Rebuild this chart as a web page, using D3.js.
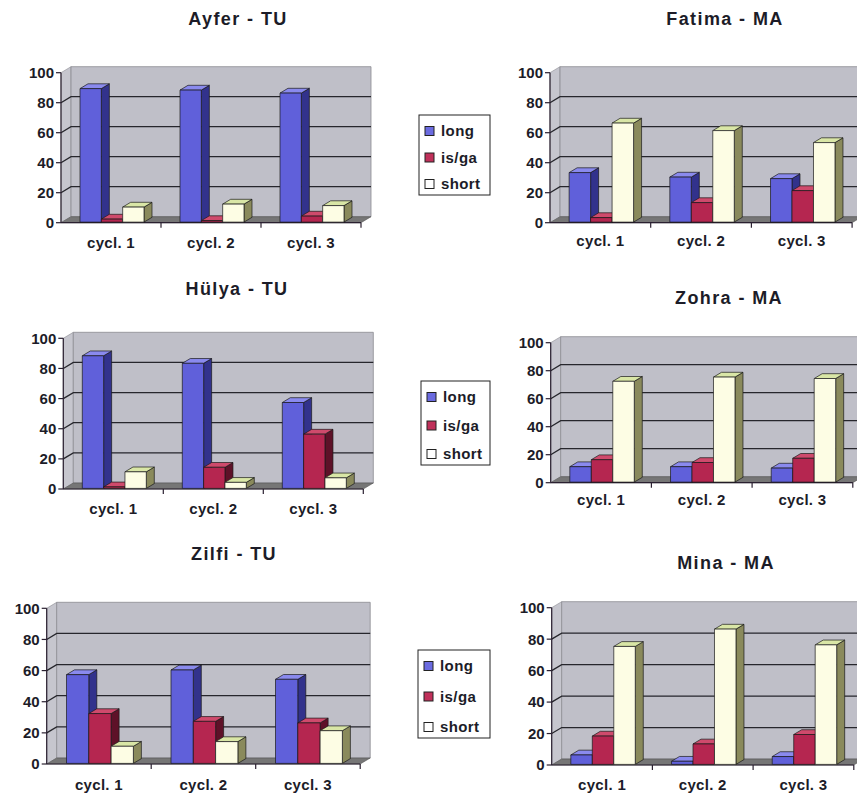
<!DOCTYPE html>
<html>
<head>
<meta charset="utf-8">
<script src="https://cdn.jsdelivr.net/npm/d3@7/dist/d3.min.js"></script>
<style>
  html, body { margin: 0; padding: 0; background: #ffffff; }
  svg { display: block; }
  text { font-family: "Liberation Sans", Arial, sans-serif; font-weight: bold; fill: #1c1c28; }
</style>
</head>
<body>
<svg id="chart" width="857" height="796"></svg>
<script>
// Shared categories, series and value ticks
const categories = ["cycl. 1", "cycl. 2", "cycl. 3"];
const seriesNames = ["long", "is/ga", "short"];
const yTicks = [0, 20, 40, 60, 80, 100];
const titles = ["Ayfer - TU", "Hülya - TU", "Zilfi - TU", "Fatima - MA", "Zohra - MA", "Mina - MA"];

// Percentages per speaker: one row per series (long, is/ga, short), one column per cycle
const ayfer  = [[89, 88, 86], [2, 1, 4], [10, 12, 11]];
const hulya  = [[88, 83, 57], [1, 14, 36], [11, 4, 7]];
const zilfi  = [[57, 60, 54], [32, 27, 26], [11, 14, 21]];
const fatima = [[33, 30, 29], [3, 13, 21], [66, 61, 53]];
const zohra  = [[11, 11, 10], [16, 14, 17], [72, 75, 74]];
const mina   = [[6, 2, 5], [18, 13, 19], [75, 86, 76]];

const speakers = [ayfer, hulya, zilfi, fatima, zohra, mina];

// Panel geometry: axis origin, height of the 0-100 range, category band width, text anchors
const panels = [
  { ax: 61,    zy: 222.7, h: 150,   band: 100,   tx: 238, ty: 25,  ly: 248, lg: { x: 419, y: 115, w: 71, h: 80 } },
  { ax: 63.3,  zy: 489,   h: 150.7, band: 100,   tx: 237, ty: 295, ly: 514, lg: { x: 421, y: 381, w: 69, h: 84 } },
  { ax: 46.7,  zy: 764,   h: 155.7, band: 104.5, tx: 234, ty: 560, ly: 790, lg: { x: 418, y: 650, w: 72, h: 88 } },
  { ax: 550,   zy: 222.7, h: 150,   band: 100.7, tx: 725, ty: 25,  ly: 246 },
  { ax: 550.7, zy: 482.7, h: 140,   band: 100.7, tx: 729, ty: 304, ly: 505 },
  { ax: 551.7, zy: 765,   h: 157.3, band: 100.7, tx: 726, ty: 569, ly: 790 }
];

// Face colours per series: front, top, side
const faces = [
  { front: "#6060da", top: "#8a8aee", side: "#32328c" },
  { front: "#b52650", top: "#cf4a6c", side: "#5e1128" },
  { front: "#fdfde4", top: "#d9e6a6", side: "#8a8a5c" }
];
const swatch = ["#6b6be0", "#c0305a", "#ffffff"];

const DX = 10, DY = 6;         // depth offset of the back wall
const Z0 = 0.1, Z1 = 0.9;      // bar depth extent

const svg = d3.select("#chart");

speakers.forEach((data, i) => {
  const p = panels[i];
  const g = svg.append("g");

  const x = d3.scaleBand().domain(categories).range([p.ax, p.ax + 3 * p.band]).paddingInner(0).paddingOuter(0);
  const y = d3.scaleLinear().domain([0, 100]).range([p.zy, p.zy - p.h]);
  const sub = d3.scaleBand().domain(seriesNames).range([0, x.bandwidth() * 0.64]);

  const x0 = x.range()[0], x1 = x.range()[1];
  const pt = (px, v, z) => [px + z * DX, y(v) - z * DY];
  const poly = pts => "M" + pts.map(q => q.join(",")).join("L") + "Z";

  // left side wall and back wall
  g.append("path")
    .attr("d", poly([pt(x0, 0, 0), pt(x0, 100, 0), pt(x0, 100, 1), pt(x0, 0, 1)]))
    .attr("fill", "#c6c6ce").attr("stroke", "#8a8a90").attr("stroke-width", 0.6);
  g.append("path")
    .attr("d", poly([pt(x0, 0, 1), pt(x0, 100, 1), pt(x1, 100, 1), pt(x1, 0, 1)]))
    .attr("fill", "#bfbfc8").attr("stroke", "#8a8a90").attr("stroke-width", 0.8);

  // gridlines across the side wall and back wall
  yTicks.filter(t => t > 0 && t < 100).forEach(t => {
    g.append("path")
      .attr("d", "M" + pt(x0, t, 0).join(",") + "L" + pt(x0, t, 1).join(",") + "L" + pt(x1, t, 1).join(","))
      .attr("fill", "none").attr("stroke", "#26262c").attr("stroke-width", 1.3);
  });

  // floor
  g.append("path")
    .attr("d", poly([pt(x0, 0, 0), pt(x1, 0, 0), pt(x1, 0, 1), pt(x0, 0, 1)]))
    .attr("fill", "#767676").attr("stroke", "#555").attr("stroke-width", 0.6);

  // value axis
  g.append("line").attr("x1", x0).attr("x2", x0).attr("y1", y(0)).attr("y2", y(100))
    .attr("stroke", "#2a2030").attr("stroke-width", 1.2);
  yTicks.forEach(t => {
    g.append("line").attr("x1", x0 - 5).attr("x2", x0).attr("y1", y(t)).attr("y2", y(t))
      .attr("stroke", "#2a2030").attr("stroke-width", 1.2);
    g.append("text").attr("x", x0 - 7).attr("y", y(t)).attr("dy", "0.36em")
      .attr("text-anchor", "end").attr("font-size", 15).text(t);
  });

  // category axis
  g.append("line").attr("x1", x0).attr("x2", x1).attr("y1", y(0)).attr("y2", y(0))
    .attr("stroke", "#2a2030").attr("stroke-width", 1.2);
  categories.forEach(c => {
    const xe = x(c) + x.bandwidth();
    g.append("line").attr("x1", xe).attr("x2", xe).attr("y1", y(0)).attr("y2", y(0) + 5)
      .attr("stroke", "#2a2030").attr("stroke-width", 1.2);
    g.append("text").attr("x", x(c) + x.bandwidth() / 2).attr("y", p.ly)
      .attr("text-anchor", "middle").attr("font-size", 15).attr("letter-spacing", 0.3).text(c);
  });

  // 3D columns, drawn left to right so later faces overlap earlier side faces
  categories.forEach((c, ci) => {
    const start = x(c) + (x.bandwidth() - sub.range()[1]) / 2;
    seriesNames.forEach((s, si) => {
      const v = data[si][ci];
      const bx0 = start + sub(s), bx1 = bx0 + sub.bandwidth();
      const f = faces[si];
      const front = [pt(bx0, 0, Z0), pt(bx1, 0, Z0), pt(bx1, v, Z0), pt(bx0, v, Z0)];
      const side = [pt(bx1, 0, Z0), pt(bx1, 0, Z1), pt(bx1, v, Z1), pt(bx1, v, Z0)];
      const top = [pt(bx0, v, Z0), pt(bx1, v, Z0), pt(bx1, v, Z1), pt(bx0, v, Z1)];
      [[side, f.side], [top, f.top], [front, f.front]].forEach(([shape, col]) => {
        g.append("path").attr("d", poly(shape)).attr("fill", col)
          .attr("stroke", "#1a1a1a").attr("stroke-width", 0.7).attr("stroke-linejoin", "round");
      });
    });
  });

  // title
  g.append("text").attr("x", p.tx).attr("y", p.ty).attr("text-anchor", "middle")
    .attr("font-size", 18).attr("letter-spacing", 1.4).text(titles[i]);

  // legend
  if (p.lg) {
    const lg = g.append("g").attr("transform", `translate(${p.lg.x},${p.lg.y})`);
    lg.append("rect").attr("width", p.lg.w).attr("height", p.lg.h)
      .attr("fill", "#fff").attr("stroke", "#222").attr("stroke-width", 1);
    const ly = d3.scalePoint().domain(seriesNames).range([16, p.lg.h - 11]);
    seriesNames.forEach((s, si) => {
      lg.append("rect").attr("x", 6).attr("y", ly(s) - 4.5).attr("width", 9).attr("height", 9)
        .attr("fill", swatch[si]).attr("stroke", "#222").attr("stroke-width", 1);
      lg.append("text").attr("x", 22).attr("y", ly(s)).attr("dy", "0.36em")
        .attr("font-size", 15).attr("letter-spacing", 0.4).text(s);
    });
  }
});
</script>
</body>
</html>
